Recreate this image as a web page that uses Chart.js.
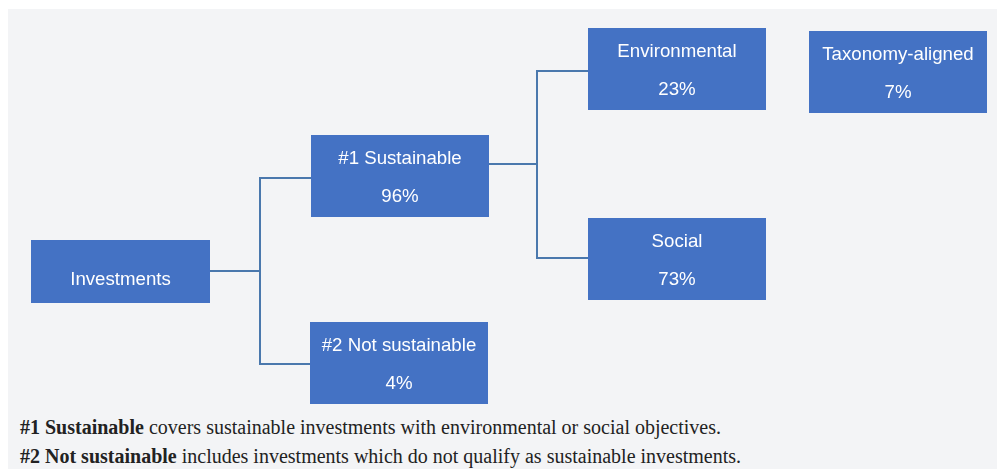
<!DOCTYPE html>
<html>
<head>
<meta charset="utf-8">
<script src="https://cdn.jsdelivr.net/npm/chart.js@4.4.0/dist/chart.umd.min.js"></script>
<style>
  body { margin: 0; background: #fff; }
  #panel { position: absolute; left: 8px; top: 9px; width: 989px; height: 460px; background: #f3f4f6; }
  #wrap { position: absolute; left: 0; top: 0; width: 989px; height: 400px; }
  #notes { position: absolute; left: 12px; top: 404px; font-family: "Liberation Serif", "Times New Roman", serif;
           font-size: 20px; line-height: 29px; color: #222; }
</style>
</head>
<body>
<div id="panel">
  <div id="wrap"><canvas id="mycanvas" width="989" height="400"></canvas></div>
  <div id="notes">
    <div><b>#1 Sustainable</b> covers sustainable investments with environmental or social objectives.</div>
    <div><b>#2 Not sustainable</b> includes investments which do not qualify as sustainable investments.</div>
  </div>
</div>
<script>
// tree data
var nodes = ['Investments', '#1 Sustainable', '#2 Not sustainable', 'Environmental', 'Social', 'Taxonomy-aligned'];
var shares = [null, 96, 4, 23, 73, 7];
var parents = [-1, 0, 0, 1, 1, -1];

// layout, in panel units (centre, size, where the connectors meet the box)
var layout = [
  { cx: 112.5, cy: 262.5, w: 179, h: 63, inY: 262, outY: 262, elbow: 252 },
  { cx: 392, cy: 167, w: 178, h: 82, inY: 169, outY: 155, elbow: 529 },
  { cx: 391, cy: 354, w: 178, h: 82, inY: 355 },
  { cx: 669, cy: 60, w: 178, h: 82, inY: 62 },
  { cx: 669, cy: 250, w: 178, h: 82, inY: 249 },
  { cx: 890, cy: 63, w: 178, h: 82 }
];

var boxColor = '#4472c4';
var lineColor = '#4a78ad';

var datasets = [];
for (var i = 0; i < nodes.length; i++) {
  var p = parents[i];
  if (p < 0) continue;
  var a = layout[p], b = layout[i];
  datasets.push({
    label: nodes[p] + ' > ' + nodes[i],
    data: [
      { x: a.cx + a.w / 2, y: a.outY },
      { x: a.elbow, y: a.outY },
      { x: a.elbow, y: b.inY },
      { x: b.cx - b.w / 2, y: b.inY }
    ],
    showLine: true,
    borderColor: lineColor,
    borderWidth: 2,
    pointRadius: 0,
    tension: 0
  });
}

var boxPlugin = {
  id: 'boxes',
  afterDatasetsDraw: function(chart) {
    var ctx = chart.ctx, xs = chart.scales.x, ys = chart.scales.y;
    ctx.save();
    for (var i = 0; i < nodes.length; i++) {
      var L = layout[i];
      var x0 = xs.getPixelForValue(L.cx - L.w / 2), x1 = xs.getPixelForValue(L.cx + L.w / 2);
      var y0 = ys.getPixelForValue(L.cy - L.h / 2), y1 = ys.getPixelForValue(L.cy + L.h / 2);
      ctx.fillStyle = boxColor;
      ctx.fillRect(x0, y0, x1 - x0, y1 - y0);
      ctx.fillStyle = '#ffffff';
      ctx.font = '18.67px "Liberation Sans", Arial, sans-serif';
      ctx.textAlign = 'center';
      ctx.textBaseline = 'middle';
      var cx = (x0 + x1) / 2, h = y1 - y0;
      if (shares[i] == null) {
        ctx.fillText(nodes[i], cx, y0 + h * 0.6 + 2);
      } else {
        ctx.fillText(nodes[i], cx, y0 + 24);
        ctx.fillText(shares[i] + '%', cx, y0 + 62);
      }
    }
    ctx.restore();
  }
};

var chart = new Chart(document.getElementById('mycanvas'), {
  type: 'scatter',
  data: { datasets: datasets },
  options: {
    responsive: false,
    animation: false,
    devicePixelRatio: 1,
    layout: { padding: 0 },
    plugins: { legend: { display: false }, tooltip: { enabled: false } },
    scales: {
      x: { type: 'linear', min: 0, max: 989, display: false },
      y: { type: 'linear', min: 0, max: 400, reverse: true, display: false }
    }
  },
  plugins: [boxPlugin]
});
</script>
</body>
</html>
